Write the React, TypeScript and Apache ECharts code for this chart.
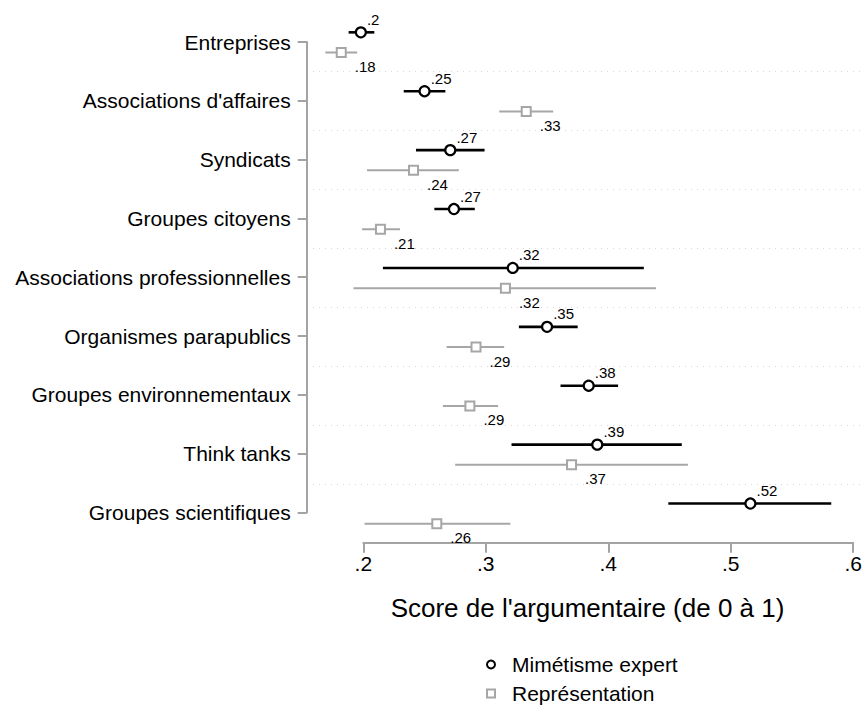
import React, { useEffect, useRef } from "react";
import * as echarts from "echarts";

const categories = [
  "Entreprises",
  "Associations d'affaires",
  "Syndicats",
  "Groupes citoyens",
  "Associations professionnelles",
  "Organismes parapublics",
  "Groupes environnementaux",
  "Think tanks",
  "Groupes scientifiques",
];

const expertMean = [0.198, 0.25, 0.271, 0.274, 0.322, 0.35, 0.384, 0.391, 0.516];
const expertLow = [0.188, 0.233, 0.243, 0.258, 0.216, 0.327, 0.361, 0.321, 0.449];
const expertHigh = [0.209, 0.267, 0.299, 0.291, 0.429, 0.375, 0.408, 0.46, 0.582];

const reprMean = [0.182, 0.333, 0.241, 0.214, 0.316, 0.292, 0.287, 0.37, 0.26];
const reprLow = [0.169, 0.311, 0.203, 0.199, 0.192, 0.268, 0.265, 0.275, 0.201];
const reprHigh = [0.195, 0.355, 0.278, 0.23, 0.439, 0.315, 0.31, 0.465, 0.32];

const xTicks = [0.2, 0.3, 0.4, 0.5, 0.6];

const seriesNames = ["Mimétisme expert", "Représentation"];
const xTitle = "Score de l'argumentaire (de 0 à 1)";

const FONT = "'Liberation Sans', Arial, Helvetica, sans-serif";
const AXIS_GRAY = "#a3a3a3";
const GRAY = "#a6a6a6";

const fmt = (v: number) => {
  const r = Math.round(v * 100) / 100;
  return r.toString().replace(/^0\./, ".");
};

export default function App() {
  const ref = useRef<HTMLDivElement>(null);

  useEffect(() => {
    if (!ref.current) return;
    const chart = echarts.init(ref.current, undefined, { renderer: "svg" });

    // pixel layout
    const x02 = 363.3;
    const x06 = 853.3;
    const pxPerUnit = (x06 - x02) / (xTicks[xTicks.length - 1] - xTicks[0]);
    const plotLeft = 313;
    const plotRight = 862;
    const xMin = xTicks[0] - (x02 - plotLeft) / pxPerUnit;
    const xMax = xTicks[0] + (plotRight - x02) / pxPerUnit;
    const catTop = 42;
    const catStep = 58.8;
    const axisY = catTop + catStep * (categories.length - 1 + 0.5) + 0.9;
    const gridTop = catTop - catStep * 0.5;

    const offUp = -0.165;
    const offDown = 0.178;

    const ciData = (lo: number[], hi: number[], off: number) =>
      lo.map((l, i) => [l, hi[i], i + off]);

    const ciRender = (color: string, width: number) => (params: any, api: any) => {
      const p1 = api.coord([api.value(0), api.value(2)]);
      const p2 = api.coord([api.value(1), api.value(2)]);
      return {
        type: "line",
        shape: { x1: p1[0], y1: p1[1], x2: p2[0], y2: p2[1] },
        style: { stroke: color, lineWidth: width },
      };
    };

    chart.setOption({
      animation: false,
      backgroundColor: "#fff",
      textStyle: { fontFamily: FONT },
      grid: [
        { left: plotLeft, width: plotRight - plotLeft, top: gridTop, height: axisY - gridTop },
        { left: x02, width: x06 - x02, top: gridTop, height: axisY - gridTop },
        { left: 306.7, width: 500, top: catTop, height: catStep * (categories.length - 1) },
      ],
      xAxis: [
        {
          type: "value",
          gridIndex: 0,
          min: xMin,
          max: xMax,
          axisLine: { show: false },
          axisTick: { show: false },
          axisLabel: { show: false },
          splitLine: { show: false },
          name: xTitle,
          nameLocation: "middle",
          nameGap: 52,
          nameTextStyle: { fontSize: 26, color: "#000", fontFamily: FONT },
        },
        {
          type: "value",
          gridIndex: 1,
          min: xTicks[0],
          max: xTicks[xTicks.length - 1],
          interval: 0.1,
          axisLine: { show: true, lineStyle: { color: AXIS_GRAY, width: 2 } },
          axisTick: { show: true, length: 10, lineStyle: { color: AXIS_GRAY, width: 2 } },
          axisLabel: {
            fontSize: 21,
            color: "#000",
            margin: 10,
            fontFamily: FONT,
            formatter: (v: number) => v.toFixed(1).replace(/^0\./, "."),
          },
          splitLine: { show: false },
        },
        { type: "value", gridIndex: 2, show: false },
      ],
      yAxis: [
        {
          type: "value",
          gridIndex: 0,
          min: -0.5,
          max: categories.length - 0.5,
          interval: 1,
          inverse: true,
          axisLine: { show: false },
          axisTick: { show: false },
          axisLabel: { show: false },
          splitLine: {
            show: true,
            showMinLine: false,
            showMaxLine: false,
            lineStyle: { color: "#d6d6d6", type: [1, 5], width: 1 },
          },
        },
        { type: "value", gridIndex: 1, show: false },
        {
          type: "category",
          gridIndex: 2,
          data: categories,
          inverse: true,
          boundaryGap: false,
          axisLine: { show: true, lineStyle: { color: AXIS_GRAY, width: 2 } },
          axisTick: { show: true, length: 9, lineStyle: { color: AXIS_GRAY, width: 2 } },
          axisLabel: { fontSize: 21, color: "#000", margin: 16, fontFamily: FONT },
          splitLine: { show: false },
        },
      ],
      legend: {
        orient: "vertical",
        left: 486,
        top: 654,
        padding: 0,
        itemWidth: 8,
        itemHeight: 8,
        itemGap: 8,
        data: seriesNames,
        textStyle: {
          fontSize: 21,
          color: "#000",
          fontFamily: FONT,
          lineHeight: 21,
          padding: [0, 0, 0, 12],
        },
      },
      series: [
        {
          type: "custom",
          xAxisIndex: 0,
          yAxisIndex: 0,
          renderItem: ciRender(GRAY, 2),
          encode: { x: [0, 1], y: 2 },
          data: ciData(reprLow, reprHigh, offDown),
          silent: true,
          z: 1,
        },
        {
          type: "custom",
          xAxisIndex: 0,
          yAxisIndex: 0,
          renderItem: ciRender("#000", 2.6),
          encode: { x: [0, 1], y: 2 },
          data: ciData(expertLow, expertHigh, offUp),
          silent: true,
          z: 1,
        },
        {
          name: seriesNames[0],
          type: "scatter",
          xAxisIndex: 0,
          yAxisIndex: 0,
          symbol: "circle",
          symbolSize: 10,
          itemStyle: { color: "#fff", borderColor: "#000", borderWidth: 2.2, opacity: 1 },
          label: {
            show: true,
            position: "right",
            distance: 0,
            offset: [0, -13],
            fontSize: 15,
            color: "#000",
            fontFamily: FONT,
            formatter: (p: any) => fmt(p.value[0]),
          },
          data: expertMean.map((v, i) => [v, i + offUp]),
          z: 3,
        },
        {
          name: seriesNames[1],
          type: "scatter",
          xAxisIndex: 0,
          yAxisIndex: 0,
          symbol: "rect",
          symbolSize: 9,
          itemStyle: { color: "#fff", borderColor: GRAY, borderWidth: 2, opacity: 1 },
          label: {
            show: true,
            position: "right",
            distance: 8,
            offset: [0, 14],
            fontSize: 15,
            color: "#000",
            fontFamily: FONT,
            formatter: (p: any) => fmt(p.value[0]),
          },
          data: reprMean.map((v, i) => [v, i + offDown]),
          z: 3,
        },
      ],
    });

    return () => chart.dispose();
  }, []);

  return (
    <div
      ref={ref}
      style={{ position: "fixed", left: 0, top: 0, width: 865, height: 707 }}
    />
  );
}
